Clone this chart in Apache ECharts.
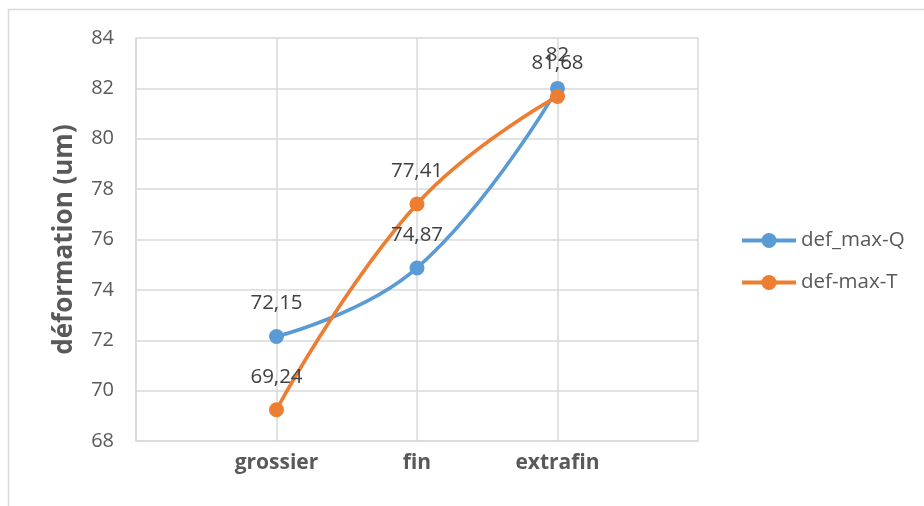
<!DOCTYPE html>
<html>
<head>
<meta charset="utf-8">
<script src="https://cdn.jsdelivr.net/npm/echarts@6/dist/echarts.min.js"></script>
<style>
  html, body { margin: 0; padding: 0; background: #fff; }
  #chart { width: 924px; height: 506px; }
</style>
</head>
<body>
<div id="chart"></div>
<script>
// Category slots: an empty slot on each side keeps the three grades centred
const categories = ['', 'grossier', 'fin', 'extrafin', ''];
const defMaxQ = ['-', 72.15, 74.87, 82, '-'];
const defMaxT = ['-', 69.24, 77.41, 81.68, '-'];
const yTicks = { min: 68, max: 84, step: 2 };

const FONT = '"Open Sans", "Noto Sans", sans-serif';
const BLUE = '#5B9BD5';
const ORANGE = '#ED7D31';
const GRID = '#d9d9d9';

function commaLabel(p) {
  return String(p.value).replace('.', ',');
}

function makeSeries(name, data, color) {
  return {
    name: name,
    type: 'line',
    data: data,
    smooth: 0.45,
    symbol: 'circle',
    symbolSize: 15,
    lineStyle: { width: 3.6, color: color },
    itemStyle: { color: color },
    label: {
      show: true,
      position: 'top',
      distance: 15,
      fontFamily: FONT,
      fontSize: 20.5,
      color: '#404040',
      formatter: commaLabel
    },
    emphasis: { disabled: true },
    animation: false
  };
}

const chart = echarts.init(document.getElementById('chart'), null, { renderer: 'canvas' });
chart.setOption({
  backgroundColor: '#fff',
  animation: false,
  textStyle: { fontFamily: FONT },
  graphic: [{
    type: 'rect',
    shape: { x: 8.5, y: 9.5, width: 940, height: 520 },
    style: { fill: 'none', stroke: GRID, lineWidth: 1.5 },
    silent: true,
    z: -10
  }],
  grid: { left: 136, right: 226, top: 38, bottom: 65 },
  legend: {
    orient: 'vertical',
    left: 735,
    top: 225,
    itemWidth: 54,
    itemHeight: 19,
    itemGap: 21,
    lineStyle: { width: 4 },
    textStyle: { fontFamily: FONT, fontSize: 20.5, color: '#595959' },
    data: ['def_max-Q', 'def-max-T']
  },
  xAxis: {
    type: 'category',
    data: categories,
    boundaryGap: false,
    axisLine: { show: true, lineStyle: { color: GRID, width: 1.5 } },
    axisTick: { show: false },
    splitLine: { show: true, lineStyle: { color: GRID, width: 1.5 } },
    axisLabel: {
      margin: 12,
      fontFamily: FONT,
      fontSize: 21,
      fontWeight: 'bold',
      color: '#595959',
      interval: 0
    }
  },
  yAxis: {
    type: 'value',
    min: yTicks.min,
    max: yTicks.max,
    interval: yTicks.step,
    name: 'déformation (um)',
    nameLocation: 'middle',
    nameRotate: 90,
    nameGap: 58,
    nameTextStyle: { fontFamily: FONT, fontSize: 26, fontWeight: 'bold', color: '#595959' },
    axisLine: { show: true, lineStyle: { color: GRID, width: 1.5 } },
    axisTick: { show: false },
    splitLine: { show: true, lineStyle: { color: GRID, width: 1.5 } },
    axisLabel: { margin: 22, fontFamily: FONT, fontSize: 20, color: '#595959' }
  },
  series: [
    makeSeries('def_max-Q', defMaxQ, BLUE),
    makeSeries('def-max-T', defMaxT, ORANGE)
  ]
});
</script>
</body>
</html>
